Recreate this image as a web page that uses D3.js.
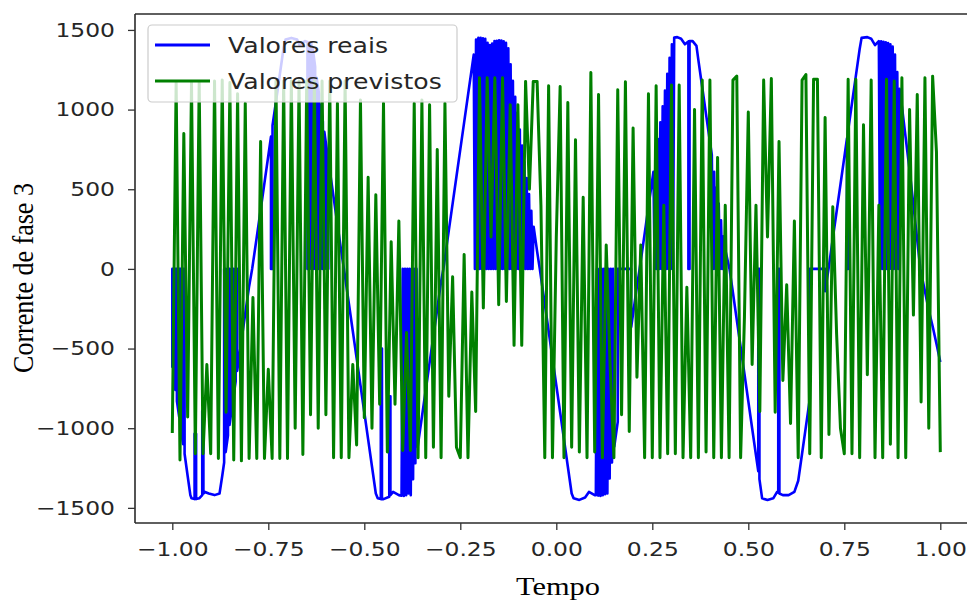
<!DOCTYPE html>
<html><head><meta charset="utf-8">
<script src="https://cdn.jsdelivr.net/npm/d3@7"></script>
<style>
body{margin:0;background:#fff;}
svg{display:block;}
</style></head>
<body><svg id="chart" width="967" height="602"></svg>
<script>
// ---------- data ----------
const xTicks = [-1.00,-0.75,-0.50,-0.25,0.00,0.25,0.50,0.75,1.00];
const yTicks = [-1500,-1000,-500,0,500,1000,1500];
const seriesNames = ["Valores reais","Valores previstos"];
const xLabel = "Tempo";
const yLabel = "Corrente de fase 3";

// real values: [tempo, corrente]
const valoresReais = [
[-1.000,-620],[-1.000,0],[-0.996,0],[-0.996,-690],[-0.992,-760],[-0.992,0],[-0.988,0],[-0.988,-830],[-0.982,-930],[-0.982,0],[-0.978,0],[-0.978,-1000],[-0.972,-1100],[-0.972,0],[-0.968,0],[-0.968,-1160],[-0.960,-1300],[-0.953,-1420],[-0.950,-1440],[-0.942,-1445],[-0.942,-1035],[-0.938,-1035],[-0.938,-1445],[-0.930,-1440],[-0.922,-1420],[-0.922,-890],[-0.919,-890],[-0.919,-1410],[-0.915,-1400],[-0.905,-1410],[-0.890,-1420],[-0.877,-1410],[-0.870,-1300],[-0.865,-1215],[-0.865,0],[-0.861,0],[-0.861,-1150],[-0.855,-1045],[-0.855,0],[-0.851,0],[-0.851,-980],[-0.845,-875],[-0.845,0],[-0.841,0],[-0.841,-810],[-0.835,-705],[-0.835,0],[-0.831,0],[-0.831,-640],[-0.820,-450],[-0.810,-280],[-0.800,-110],[-0.792,0],[-0.780,200],[-0.770,370],[-0.760,540],[-0.750,710],[-0.743,830],[-0.743,0],[-0.739,0],[-0.739,900],[-0.730,1050],[-0.720,1220],[-0.710,1390],[-0.705,1440],[-0.690,1450],[-0.675,1440],[-0.668,1400],[-0.655,1430],[-0.648,1425],[-0.648,0],[-0.644,0],[-0.644,1422],[-0.638,1420],[-0.638,0],[-0.634,0],[-0.634,1380],[-0.628,1270],[-0.628,0],[-0.624,0],[-0.624,1200],[-0.618,1100],[-0.618,0],[-0.614,0],[-0.614,1030],[-0.608,925],[-0.608,0],[-0.604,0],[-0.604,860],[-0.598,755],[-0.598,0],[-0.594,0],[-0.594,690],[-0.590,620],[-0.580,450],[-0.570,280],[-0.560,110],[-0.553,0],[-0.540,-220],[-0.530,-390],[-0.520,-560],[-0.510,-730],[-0.500,-900],[-0.490,-1070],[-0.480,-1240],[-0.470,-1410],[-0.465,-1440],[-0.457,-1445],[-0.457,-500],[-0.454,-500],[-0.454,-1445],[-0.450,-1445],[-0.435,-1430],[-0.435,-800],[-0.432,-800],[-0.432,-1420],[-0.425,-1400],[-0.410,-1420],
[-0.403,-1424],[-0.400,0],[-0.397,-1425],[-0.394,0],[-0.391,-1420],[-0.388,0],[-0.385,-1410],[-0.382,0],[-0.379,-1420],[-0.376,0],[-0.373,-1320],[-0.370,0],[-0.367,-1220],[-0.364,0],[-0.361,-1115],
[-0.350,-930],[-0.340,-760],[-0.330,-590],[-0.320,-420],[-0.310,-250],[-0.300,-80],[-0.294,0],[-0.280,240],[-0.270,410],[-0.260,580],[-0.250,750],[-0.240,920],[-0.230,1090],[-0.220,1260],
[-0.215,1345],[-0.212,0],[-0.209,1440],[-0.206,0],[-0.203,1450],[-0.200,0],[-0.197,1450],[-0.194,0],[-0.191,1448],[-0.188,0],[-0.185,1445],[-0.182,0],[-0.179,1420],[-0.176,0],[-0.173,1405],[-0.170,0],[-0.167,1415],[-0.164,0],[-0.161,1430],[-0.158,0],[-0.155,1432],[-0.152,0],[-0.149,1435],[-0.146,0],[-0.143,1433],[-0.140,0],[-0.137,1428],[-0.134,0],[-0.131,1420],[-0.128,0],[-0.125,1385],[-0.122,0],[-0.119,1285],[-0.116,0],[-0.113,1180],[-0.110,0],[-0.107,1080],[-0.104,0],[-0.101,980],[-0.098,0],[-0.095,875],[-0.092,0],[-0.089,775],[-0.086,0],[-0.083,670],[-0.080,0],[-0.077,570],[-0.074,0],[-0.071,470],[-0.068,0],[-0.065,365],[-0.062,0],[-0.059,265],
[-0.050,110],[-0.043,0],[-0.030,-220],[-0.020,-390],[-0.010,-560],[0.000,-730],[0.010,-900],[0.020,-1070],[0.030,-1240],[0.040,-1410],[0.045,-1440],[0.060,-1450],[0.075,-1435],[0.085,-1400],[0.100,-1420],
[0.103,-1421],[0.106,0],[0.109,-1423],[0.112,0],[0.115,-1425],[0.118,0],[0.121,-1420],[0.124,0],[0.127,-1415],[0.130,0],[0.133,-1410],[0.136,0],[0.139,-1315],[0.142,0],[0.145,-1215],[0.148,0],[0.151,-1115],
[0.160,-960],[0.160,0],[0.195,0],[0.195,-365],[0.200,-280],[0.210,-110],[0.217,0],[0.230,220],[0.240,390],[0.250,560],
[0.253,610],[0.256,0],[0.259,715],[0.262,0],[0.265,815],[0.268,0],[0.271,920],[0.274,0],[0.277,1020],[0.280,0],[0.283,1120],[0.286,0],[0.289,1225],[0.292,0],[0.295,1325],[0.298,0],[0.301,1410],[0.304,0],[0.307,1452],
[0.315,1455],[0.325,1445],[0.335,1410],[0.344,1428],[0.344,0],[0.347,0],[0.347,1430],[0.355,1430],[0.365,1400],[0.370,1310],[0.380,1140],[0.390,970],[0.400,800],
[0.405,715],[0.408,0],[0.411,610],[0.414,0],[0.417,510],[0.420,0],[0.423,410],[0.426,0],[0.429,305],[0.432,0],[0.435,205],
[0.440,120],[0.451,0],[0.460,-150],[0.470,-320],[0.480,-490],[0.490,-660],[0.500,-830],[0.510,-1000],[0.520,-1170],[0.526,-1270],[0.526,0],[0.529,0],[0.529,-1320],[0.536,-1440],[0.550,-1450],[0.565,-1440],[0.575,-1400],[0.578,-1405],[0.578,0],[0.581,0],[0.581,-1410],[0.590,-1420],[0.605,-1420],[0.620,-1400],[0.630,-1330],[0.640,-1160],[0.650,-990],[0.660,-820],[0.660,0],[0.700,0],[0.700,-140],[0.709,0],[0.720,190],[0.730,360],[0.740,530],[0.750,700],[0.757,820],[0.757,0],[0.760,0],[0.760,870],[0.770,1040],[0.780,1210],[0.790,1380],[0.795,1450],[0.810,1455],[0.820,1445],[0.830,1405],[0.838,1425],
[0.840,1430],[0.843,0],[0.846,1428],[0.849,0],[0.852,1425],[0.855,0],[0.858,1422],[0.861,0],[0.864,1418],[0.867,0],[0.870,1410],[0.873,0],[0.876,1395],[0.879,0],[0.882,1345],[0.885,0],[0.888,1235],[0.891,0],[0.894,1130],
[0.900,1020],[0.910,820],[0.920,620],[0.930,400],[0.940,180],[0.948,0],[0.960,-140],[0.970,-260],[0.980,-360],[0.990,-470],[1.000,-585]
];

// predicted values
const tempoPrevisto = [
-1.00,-0.99,-0.98,-0.97,-0.96,-0.95,-0.94,-0.93,-0.92,-0.91,
-0.90,-0.89,-0.88,-0.87,-0.86,-0.85,-0.84,-0.83,-0.82,-0.81,
-0.80,-0.79,-0.78,-0.77,-0.76,-0.75,-0.74,-0.73,-0.72,-0.71,
-0.70,-0.69,-0.68,-0.67,-0.66,-0.65,-0.64,-0.63,-0.62,-0.61,
-0.60,-0.59,-0.58,-0.57,-0.56,-0.55,-0.54,-0.53,-0.52,-0.51,
-0.50,-0.49,-0.48,-0.47,-0.46,-0.45,-0.44,-0.43,-0.42,-0.41,
-0.40,-0.39,-0.38,-0.37,-0.36,-0.35,-0.34,-0.33,-0.32,-0.31,
-0.30,-0.29,-0.28,-0.27,-0.26,-0.25,-0.24,-0.23,-0.22,-0.21,
-0.20,-0.19,-0.18,-0.17,-0.16,-0.15,-0.14,-0.13,-0.12,-0.11,
-0.10,-0.09,-0.08,-0.07,-0.06,-0.05,-0.04,-0.03,-0.02,-0.01,
0.00,0.01,0.02,0.03,0.04,0.05,0.06,0.07,0.08,0.09,
0.10,0.11,0.12,0.13,0.14,0.15,0.16,0.17,0.18,0.19,
0.20,0.21,0.22,0.23,0.24,0.25,0.26,0.27,0.28,0.29,
0.30,0.31,0.32,0.33,0.34,0.35,0.36,0.37,0.38,0.39,
0.40,0.41,0.42,0.43,0.44,0.45,0.46,0.47,0.48,0.49,
0.50,0.51,0.52,0.53,0.54,0.55,0.56,0.57,0.58,0.59,
0.60,0.61,0.62,0.63,0.64,0.65,0.66,0.67,0.68,0.69,
0.70,0.71,0.72,0.73,0.74,0.75,0.76,0.77,0.78,0.79,
0.80,0.81,0.82,0.83,0.84,0.85,0.86,0.87,0.88,0.89,
0.90,0.91,0.92,0.93,0.94,0.95,0.96,0.97,0.98,0.99,
1.00];
const valoresPrevistos = [
-1030,1170,-1200,850,-930,1170,-1160,1175,-1160,-600,
-1160,1180,-1190,1185,-900,1170,-1200,1100,-1205,1040,
-1190,-180,-1190,800,-1190,-630,-1190,1180,-1190,1180,
-1190,1180,-1000,1180,-1165,1180,-915,1180,-1000,1180,
-915,1180,-1185,1040,-1185,1180,-1185,-600,-1105,1060,
-935,575,-1000,465,-850,1040,-1150,170,-850,300,
-1140,-400,-1140,1040,-1185,1060,-1185,1030,-1120,750,
-1185,1040,-800,-50,-1120,-1185,90,-1185,-145,-895,
1200,-245,1200,200,1200,-225,1200,-205,1030,-480,
1030,-480,1177,500,1177,1177,400,-1185,1150,-1185,
200,1145,-1185,1045,-1120,810,-1150,450,-1185,1233,
-1150,1095,-1185,150,-600,-1185,1125,-915,1175,-1020,
885,-680,150,-1185,1100,-1185,1150,-1185,400,-1160,
1155,-1160,1155,-1185,-115,-1185,1000,-1185,1185,-1150,
1185,-1185,700,-1185,400,-1185,1185,1210,-1185,-300,
985,-600,400,-895,1185,200,1195,-900,800,-700,
-100,-970,300,-1185,1185,1220,-1160,1190,1190,-1185,
950,-1040,390,-410,-1000,-1160,1190,-1160,1190,-1185,
905,-665,1185,-1185,400,-1185,1190,-1100,1180,-1185,
1200,-1185,1000,-290,1095,-835,1200,-1000,1210,735,
-1150];

// ---------- drawing ----------
const W = 967, H = 602;
const frameL = 135, frameT = 14, frameB = 523;
const colors = ["#0000ff", "#008000"];

const svg = d3.select("#chart");
const x = d3.scaleLinear().domain([-1.1, 1.1]).range([133.9, 978.7]);
const y = d3.scaleLinear().domain([-1595, 1600]).range([frameB, frameT]);

svg.append("defs").append("clipPath").attr("id","plotclip")
  .append("rect").attr("x",frameL).attr("y",frameT).attr("width",W-frameL).attr("height",frameB-frameT);

const plot = svg.append("g").attr("clip-path","url(#plotclip)");
const line = d3.line().x(d => x(d[0])).y(d => y(d[1]));

plot.append("path").datum(valoresReais)
  .attr("d", line).attr("fill","none").attr("stroke",colors[0])
  .attr("stroke-width",2.6).attr("stroke-linejoin","round");

plot.append("path").datum(d3.zip(tempoPrevisto, valoresPrevistos))
  .attr("d", line).attr("fill","none").attr("stroke",colors[1])
  .attr("stroke-width",3).attr("stroke-linejoin","round");

// spines
const spineColor = "#2a2a2a";
svg.append("line").attr("x1",frameL).attr("x2",frameL).attr("y1",frameT).attr("y2",frameB)
  .attr("stroke",spineColor).attr("stroke-width",1.6);
svg.append("line").attr("x1",frameL).attr("x2",W).attr("y1",frameT).attr("y2",frameT)
  .attr("stroke",spineColor).attr("stroke-width",1.6);
svg.append("line").attr("x1",frameL).attr("x2",W).attr("y1",frameB).attr("y2",frameB)
  .attr("stroke",spineColor).attr("stroke-width",1.6);

const fmtX = d => (d < 0 ? "\u2212" : "") + Math.abs(d).toFixed(2);
const fmtY = d => (d < 0 ? "\u2212" : "") + Math.abs(d);

const gx = svg.append("g").attr("transform",`translate(0,${frameB})`)
  .call(d3.axisBottom(x).tickValues(xTicks).tickFormat(fmtX).tickSize(7).tickSizeOuter(0));
const gy = svg.append("g").attr("transform",`translate(${frameL},0)`)
  .call(d3.axisLeft(y).tickValues(yTicks).tickFormat(fmtY).tickSize(7).tickSizeOuter(0));

[gx, gy].forEach(g => {
  g.select(".domain").remove();
  g.selectAll(".tick line").attr("stroke","#333").attr("stroke-width",1.3);
  g.selectAll(".tick text").attr("fill","#262626")
    .style("font-family","'DejaVu Sans', sans-serif").style("font-size","20px");
});
gx.selectAll(".tick text").attr("y",null).attr("dy","0.71em")
  .attr("transform","translate(0,19) scale(1.17,1)");
gy.selectAll(".tick text").attr("x",null).attr("dy","0.32em")
  .attr("transform","translate(-20,0) scale(1.17,1)");

// axis labels
svg.append("text").text(xLabel)
  .attr("text-anchor","middle")
  .attr("transform","translate(558,595) scale(1.17,1)")
  .style("font-family","'Liberation Serif','Times New Roman',serif").style("font-size","26px")
  .attr("fill","#000");
svg.append("text").text(yLabel)
  .attr("text-anchor","middle")
  .attr("transform","translate(33,278) scale(1.17,1) rotate(-90)")
  .style("font-family","'Liberation Serif','Times New Roman',serif").style("font-size","26px")
  .attr("fill","#000");

// legend
const leg = svg.append("g");
leg.append("rect").attr("x",148).attr("y",25).attr("width",309).attr("height",77)
  .attr("rx",4).attr("fill","#fff").attr("fill-opacity",0.8)
  .attr("stroke","#cccccc").attr("stroke-width",1.2);
const rowsY = [45, 81];
seriesNames.forEach((name, i) => {
  leg.append("line").attr("x1",155).attr("x2",210).attr("y1",rowsY[i]).attr("y2",rowsY[i])
    .attr("stroke",colors[i]).attr("stroke-width",2.8);
  leg.append("text").text(name)
    .attr("dy","0.35em")
    .attr("transform",`translate(228,${rowsY[i]}) scale(1.17,1)`)
    .attr("fill","#262626")
    .style("font-family","'DejaVu Sans', sans-serif").style("font-size","21.5px");
});
</script>
</body></html>
